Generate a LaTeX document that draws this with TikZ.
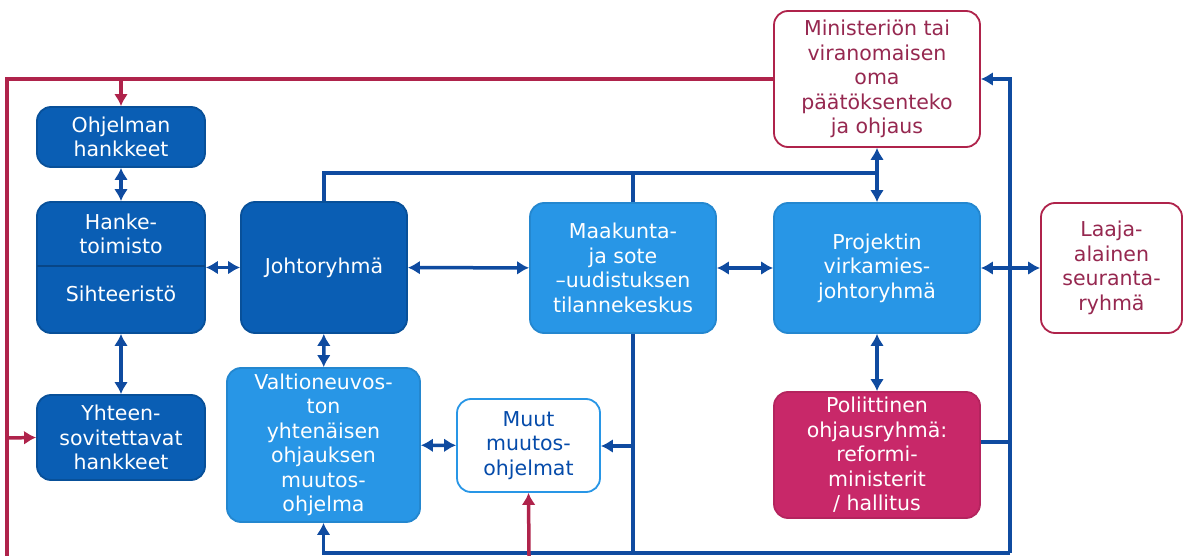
\documentclass[tikz,border=0pt]{standalone}
\usepackage{fontspec}
\setmainfont{DejaVu Sans}
\usetikzlibrary{arrows.meta}
\definecolor{dkblue}{RGB}{10,94,180}
\definecolor{ltblue}{RGB}{40,150,230}
\definecolor{polred}{RGB}{200,40,105}
\definecolor{linered}{RGB}{175,35,75}
\definecolor{textred}{RGB}{150,40,80}
\definecolor{linkblue}{RGB}{15,75,160}
\definecolor{textblue}{RGB}{5,75,170}

\begin{document}
\begin{tikzpicture}[x=1pt,y=-1pt,
		box/.style={draw, rounded corners=14pt, align=center, inner sep=0pt, line width=1.8pt, font=\fontsize{20.5}{24.5}\selectfont},
		darkbox/.style={box, fill=dkblue, draw=dkblue!85!black, text=white},
		lightbox/.style={box, fill=ltblue, draw=ltblue!90!black, text=white},
		bluebox/.style={box, fill=white, draw=ltblue, text=textblue},
		redbox/.style={box, fill=white, draw=linered, text=textred},
		polbox/.style={box, fill=polred, draw=polred!90!black, text=white},
		plain/.style={line width=3.5pt, color=linkblue},
		oneway/.style={plain, -{Latex[length=12pt,width=14pt]}},
		twoway/.style={plain, {Latex[length=12pt,width=14pt]}-{Latex[length=12pt,width=14pt]}},
		feed/.style={line width=3.5pt, color=linered},
		feedarrow/.style={feed, -{Latex[length=12pt,width=14pt]}}]
			%%%%% START %%%%%
			
			\useasboundingbox (0,0) rectangle (1183,556);
			
			% left column
			\node[darkbox, minimum width=168pt, minimum height=60pt] (ohj) at (121,137) {Ohjelman\\hankkeet};
			\node[darkbox, minimum width=168pt, minimum height=131pt] (hanke) at (121,267.5) {};
			\draw[line width=1.5pt, color=dkblue!75!black] (37,266) -- (205,266);
			\node[box, draw=none, text=white] (hanketop) at (121,234) {Hanke-\\toimisto};
			\node[box, draw=none, text=white] (hankebot) at (121,294) {Sihteeristö};
			\node[darkbox, minimum width=168pt, minimum height=85pt] (yht) at (121,437.5) {Yhteen-\\sovitettavat\\hankkeet};
			
			% middle
			\node[darkbox, minimum width=166pt, minimum height=131pt] (johto) at (324,267.5) {Johtoryhmä};
			\node[lightbox, minimum width=193pt, minimum height=154pt] (valtio) at (323.5,445) {Valtioneuvos-\\ton\\yhtenäisen\\ohjauksen\\muutos-\\ohjelma};
			\node[bluebox, minimum width=143pt, minimum height=93pt] (muut) at (528.5,445.5) {Muut\\muutos-\\ohjelmat};
			\node[lightbox, minimum width=186pt, minimum height=130pt] (maak) at (623,268) {Maakunta-\\ja sote\\–uudistuksen\\tilannekeskus};
			
			% right column
			\node[redbox, minimum width=206pt, minimum height=136pt] (min) at (877,79) {Ministeriön tai\\viranomaisen\\oma\\päätöksenteko\\ja ohjaus};
			\node[lightbox, minimum width=206pt, minimum height=130pt] (proj) at (877,268) {Projektin\\virkamies-\\johtoryhmä};
			\node[polbox, minimum width=206pt, minimum height=126pt] (pol) at (877,455) {Poliittinen\\ohjausryhmä:\\reformi-\\ministerit\\/ hallitus};
			\node[redbox, minimum width=141pt, minimum height=130pt] (laaja) at (1111.5,268) {Laaja-\\alainen\\seuranta-\\ryhmä};
			
			% corner points
			\coordinate (tj) at (877,173);
			\coordinate (mt) at (633,173);
			\coordinate (mb) at (633,553);
			\coordinate (mm) at (633,446);
			\coordinate (rb) at (1010,553);
			\coordinate (rl) at (7,556);
			\coordinate (rh) at (121,79);
			\coordinate (yl) at (7,438);
			\coordinate (mr) at (529,556);
			
			% blue links
			\draw[twoway] (ohj) -- (hanke);
			\draw[twoway] (hanke) -- (yht);
			\draw[twoway] (hanke) -- (johto);
			\draw[twoway] (johto) -- (maak);
			\draw[twoway] (maak) -- (proj);
			\draw[twoway] (proj) -- (laaja);
			\draw[twoway] (johto) -- (valtio);
			\draw[twoway] (valtio) -- (muut);
			\draw[twoway] (min) -- (proj);
			\draw[twoway] (proj) -- (pol);
			
			\draw[plain] (johto.north) |- (tj);
			\draw[plain] (mt) -- (maak.north -| mt);
			\draw[plain] (maak.south -| mb) -- (mb);
			\draw[oneway] (mm) -- (muut.east |- mm);
			\draw[oneway] (rb) |- (min.east);
			\draw[oneway] (rb) -| (valtio.south);
			\draw[plain] ([yshift=13pt]pol.east) -- ([yshift=13pt]pol.east -| rb);
			
			% red feedback
			\draw[feed] (min.west) -| (rl);
			\draw[feedarrow] (rh) -- (ohj.north);
			\draw[feedarrow] (yl) -- (yht.west);
			\draw[feedarrow] (mr) -- (muut.south);
			
			%%%%% END %%%%%
		\end{tikzpicture}
\end{document}
